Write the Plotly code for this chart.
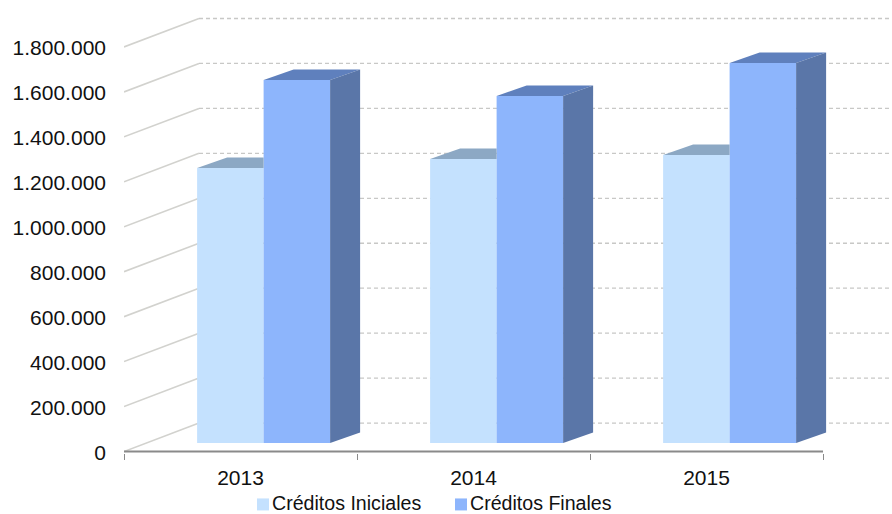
import plotly.graph_objects as go

categories = ["2013", "2014", "2015"]
creditos_iniciales = [1224000, 1264000, 1282000]
creditos_finales = [1615000, 1544000, 1691000]
tick_values = [0, 200000, 400000, 600000, 800000, 1000000, 1200000, 1400000, 1600000, 1800000]
tick_labels = ["0", "200.000", "400.000", "600.000", "800.000", "1.000.000",
               "1.200.000", "1.400.000", "1.600.000", "1.800.000"]

W, H = 892, 514
FONT = "Liberation Sans, Arial, sans-serif"
TEXT = "#111111"
UNITS_PER_PX = 200000 / 45
PX_PER_CAT = 233
LEFT, ZERO_Y = 124, 452
BELOW = 1.5
PLOT_H = ZERO_Y + BELOW

x_min = -0.5
x_max = x_min + (W - LEFT) / PX_PER_CAT
y_min = -BELOW * UNITS_PER_PX
y_max = ZERO_Y * UNITS_PER_PX

floor = 8.5 * UNITS_PER_PX
depth_x = 30 / PX_PER_CAT
depth_y = 10.5 * UNITS_PER_PX
wall_x = 75 / PX_PER_CAT
wall_y = 28.5 * UNITS_PER_PX
bar_w = 66.5 / PX_PER_CAT
off_ini = -0.0435
off_fin = off_ini + bar_w

C_INI, C_INI_TOP = "#C4E1FE", "#8CA8C4"
C_FIN, C_FIN_TOP, C_FIN_SIDE = "#8DB5FC", "#5F80BD", "#5A76A8"

groups = list(range(len(categories)))
fig = go.Figure()

fig.add_trace(go.Bar(name="Créditos Iniciales", x=[g + off_ini for g in groups],
                     y=creditos_iniciales, base=[floor] * 3, width=bar_w,
                     marker=dict(color=C_INI, line=dict(width=0)), showlegend=False))
fig.add_trace(go.Bar(name="Créditos Finales", x=[g + off_fin for g in groups],
                     y=creditos_finales, base=[floor] * 3, width=bar_w,
                     marker=dict(color=C_FIN, line=dict(width=0)), showlegend=False))


def poly(xs, ys, color):
    fig.add_trace(go.Scatter(x=xs + xs[:1], y=ys + ys[:1], mode="lines", fill="toself",
                             fillcolor=color, line=dict(width=0, color=color),
                             hoverinfo="skip", showlegend=False))


for g, vi, vf in zip(groups, creditos_iniciales, creditos_finales):
    # top of the short bar: only the part not hidden by the taller bar
    l = g + off_ini - bar_w / 2
    r = g + off_ini + bar_w / 2
    poly([l, l + depth_x, r, r], [floor + vi, floor + vi + depth_y, floor + vi + depth_y, floor + vi], C_INI_TOP)
    # top and side of the tall bar
    l = g + off_fin - bar_w / 2
    r = g + off_fin + bar_w / 2
    t = floor + vf
    poly([l, l + depth_x, r + depth_x, r], [t, t + depth_y, t + depth_y, t], C_FIN_TOP)
    poly([r, r + depth_x, r + depth_x, r], [floor, floor + depth_y, t + depth_y, t], C_FIN_SIDE)

shapes = []
for v in tick_values:
    shapes.append(dict(type="line", xref="x", yref="y", layer="below",
                       x0=x_min, x1=x_min + wall_x, y0=v, y1=v + wall_y,
                       line=dict(color="#D2D2CE", width=1.6)))
    shapes.append(dict(type="line", xref="x", yref="y", layer="below",
                       x0=x_min + wall_x, x1=x_max, y0=v + wall_y, y1=v + wall_y,
                       line=dict(color="#C8C8C6", width=1.3, dash="4px,3px")))
shapes.append(dict(type="line", xref="x", yref="y", x0=x_min, x1=x_min + 3, y0=0, y1=0,
                   line=dict(color="#8A8A8A", width=2)))

# legend swatches
for px, color in ((257, C_INI), (455, C_FIN)):
    shapes.append(dict(type="rect", xref="paper", yref="paper", layer="above",
                       x0=(px - LEFT) / (W - LEFT), x1=(px + 12 - LEFT) / (W - LEFT),
                       y0=(PLOT_H - 511) / PLOT_H, y1=(PLOT_H - 499) / PLOT_H,
                       fillcolor=color, line=dict(width=0)))

annotations = [
    dict(text=name, xref="paper", yref="paper", xanchor="left", yanchor="middle",
         x=(px - LEFT) / (W - LEFT), y=(PLOT_H - 503.5) / PLOT_H, showarrow=False, borderpad=0,
         font=dict(family=FONT, size=19.6, color=TEXT))
    for name, px in (("Créditos Iniciales", 271), ("Créditos Finales", 469))
]

fig.update_layout(
    width=W, height=H, barmode="overlay", showlegend=False,
    paper_bgcolor="white", plot_bgcolor="white",
    margin=dict(l=LEFT, r=0, t=0, b=H - PLOT_H, pad=0, autoexpand=False),
    font=dict(family=FONT, size=21, color=TEXT),
    shapes=shapes, annotations=annotations,
    xaxis=dict(range=[x_min, x_max], tickmode="array", tickvals=groups, ticktext=categories,
               showgrid=False, zeroline=False, showline=False, ticks="", ticklabelstandoff=10,
               tickfont=dict(family=FONT, size=21, color=TEXT),
               minor=dict(tickmode="array", tickvals=[-0.5, 0.5, 1.5, 2.5], ticks="outside",
                          ticklen=6, tickwidth=1, tickcolor="#8A8A8A", showgrid=False)),
    yaxis=dict(range=[y_min, y_max], tickmode="array", tickvals=tick_values, ticktext=tick_labels,
               showgrid=False, zeroline=False, showline=False, ticks="", ticklabelstandoff=17,
               ticklabelshift=1,
               tickfont=dict(family=FONT, size=21, color=TEXT)),
)

fig.write_html("out.html", config=dict(displayModeBar=False),
               post_script="document.body.style.margin='0';document.body.style.overflow='hidden';")
